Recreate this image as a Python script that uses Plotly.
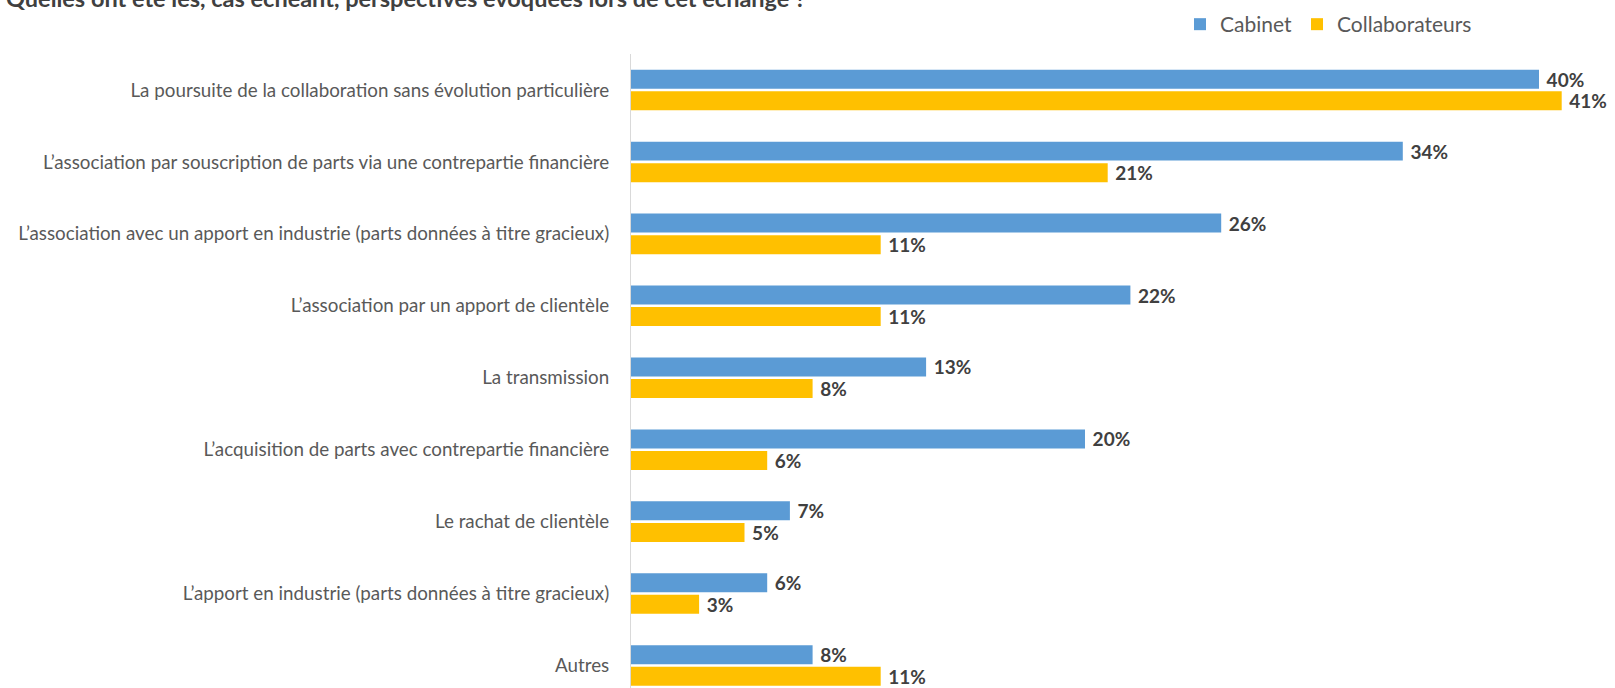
import plotly.graph_objects as go

# Survey answers (share of respondents, %)
categories = [
    "La poursuite de la collaboration sans évolution particulière",
    "L’association par souscription de parts via une contrepartie financière",
    "L’association avec un apport en industrie (parts données à titre gracieux)",
    "L’association par un apport de clientèle",
    "La transmission",
    "L’acquisition de parts avec contrepartie financière",
    "Le rachat de clientèle",
    "L’apport en industrie (parts données à titre gracieux)",
    "Autres",
]
cabinet = [40, 34, 26, 22, 13, 20, 7, 6, 8]
collaborateurs = [41, 21, 11, 11, 8, 6, 5, 3, 11]

series_names = ["Cabinet", "Collaborateurs"]
series_colors = ["#5B9BD5", "#FFC000"]

title_text = "Quelles ont été les, cas échéant, perspectives évoquées lors de cet échange ?"

W, H = 1615, 688
left, top = 631, 53.5
row_px = 72.0
plot_h = H - top
plot_w = W - left
y_bottom = -0.5 + plot_h / row_px
x_max = plot_w / 22.7

FONT = "Lato, Calibri, sans-serif"

fig = go.Figure()
for name, vals, col in zip(series_names, [cabinet, collaborateurs], series_colors):
    fig.add_trace(go.Bar(
        y=categories,
        x=vals,
        name=name,
        orientation="h",
        marker=dict(color=col, line=dict(width=0)),
        texttemplate=" %{x}%",
        textposition="outside",
        textfont=dict(family=FONT, size=19, color="#404040", weight="bold"),
        constraintext="none",
        cliponaxis=False,
        hoverinfo="skip",
    ))

fig.update_layout(
    width=W,
    height=H,
    margin=dict(l=left, r=0, t=top, b=0),
    paper_bgcolor="white",
    plot_bgcolor="white",
    barmode="group",
    bargap=0.40,
    bargroupgap=0.12,
    font=dict(family=FONT, color="#595959"),
    showlegend=True,
    legend=dict(
        orientation="h",
        x=(1180 - left) / plot_w,
        xanchor="left",
        y=1 + (top - 24) / plot_h,
        yanchor="middle",
        font=dict(size=21, color="#595959"),
        itemclick=False,
        traceorder="normal",
    ),
    xaxis=dict(
        range=[0, x_max],
        visible=False,
        fixedrange=True,
    ),
    yaxis=dict(
        type="category",
        categoryorder="array",
        categoryarray=categories,
        range=[y_bottom, -0.5],
        showline=True,
        linecolor="#D9D9D9",
        linewidth=1,
        showgrid=False,
        ticks="",
        ticklabelstandoff=17,
        tickfont=dict(size=18.8, color="#595959"),
        fixedrange=True,
    ),
    annotations=[
        dict(
            text=title_text,
            xref="paper", yref="paper",
            x=(808 - left) / plot_w, xanchor="right",
            y=1 + (top - 13) / plot_h, yanchor="bottom",
            showarrow=False,
            font=dict(size=23.5, color="#404040", weight="bold"),
        )
    ],
)

fig.write_html("out.html")
